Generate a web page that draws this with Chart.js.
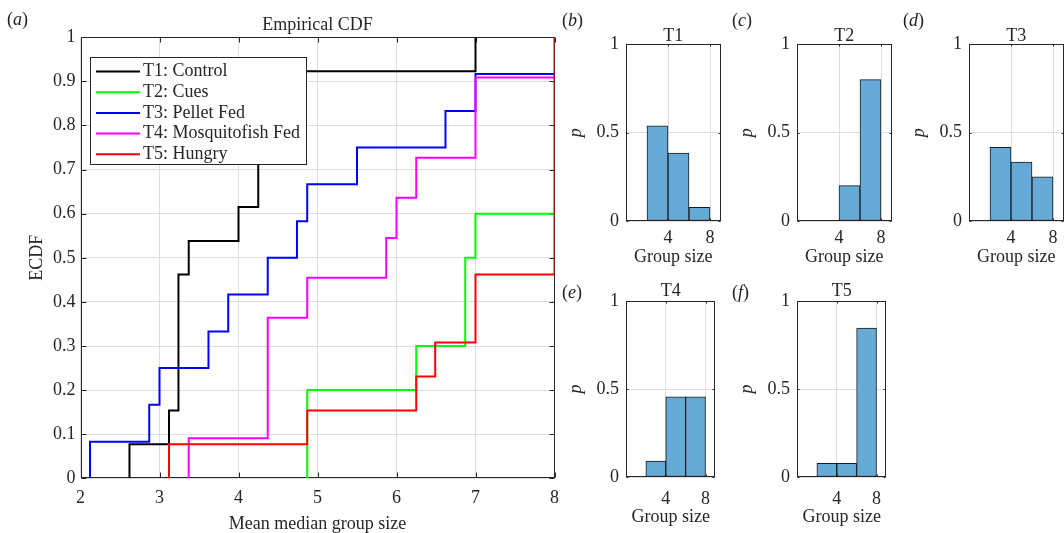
<!DOCTYPE html>
<html>
<head>
<meta charset="utf-8">
<script src="https://cdn.jsdelivr.net/npm/chart.js@4.4.1/dist/chart.umd.min.js"></script>
<style>
  body { margin: 0; background: #fff; overflow: hidden; }
  #page { position: relative; width: 1064px; height: 533px; overflow: hidden;
          font-family: 'Liberation Serif', 'Times New Roman', serif; color: #222; }
  canvas { position: absolute; }
  .lbl { position: absolute; font-size: 18px; line-height: 18px; white-space: nowrap; }
</style>
</head>
<body>
<div id="page">
  <canvas id="ecdf" width="568" height="533" style="left:0;top:0"></canvas>
  <canvas id="h1" width="159" height="270" style="left:562px;top:0"></canvas>
  <canvas id="h2" width="159" height="270" style="left:733px;top:0"></canvas>
  <canvas id="h3" width="159" height="270" style="left:905px;top:0"></canvas>
  <canvas id="h4" width="159" height="268" style="left:562px;top:265px"></canvas>
  <canvas id="h5" width="159" height="268" style="left:733px;top:265px"></canvas>

  <span class="lbl" style="left:7px;top:10px">(<i>a</i>)</span>
  <span class="lbl" style="left:562px;top:11px">(<i>b</i>)</span>
  <span class="lbl" style="left:732px;top:11px">(<i>c</i>)</span>
  <span class="lbl" style="left:903px;top:11px">(<i>d</i>)</span>
  <span class="lbl" style="left:562px;top:283px">(<i>e</i>)</span>
  <span class="lbl" style="left:732px;top:283px">(<i>f</i>)</span>
</div>

<script>
// --- Data ---

// ECDF steps: x where each jump happens and the level reached after it
const t1X = [2.62, 3.12, 3.24, 3.37, 4.0, 4.25, 7.0];
const t1Y = [0.077, 0.154, 0.462, 0.538, 0.615, 0.923, 1.0];
const t2X = [4.87, 6.25, 6.87, 7.0];
const t2Y = [0.2, 0.3, 0.5, 0.6];
const t3X = [2.12, 2.87, 3.0, 3.62, 3.87, 4.37, 4.74, 4.87, 5.5, 6.62, 7.0];
const t3Y = [0.083, 0.167, 0.25, 0.333, 0.417, 0.5, 0.583, 0.667, 0.75, 0.833, 0.917];
const t4X = [3.37, 4.37, 4.87, 5.87, 6.0, 6.25, 7.0];
const t4Y = [0.091, 0.364, 0.455, 0.545, 0.636, 0.727, 0.909];
const t5X = [3.12, 4.87, 6.25, 6.49, 7.0, 8.0];
const t5Y = [0.077, 0.154, 0.231, 0.308, 0.462, 1.0];

const seriesNames = ['T1: Control', 'T2: Cues', 'T3: Pellet Fed', 'T4: Mosquitofish Fed', 'T5: Hungry'];
const seriesColors = ['#000000', '#00ff00', '#0000ff', '#ff00ff', '#ff0000'];
const ecdfXTicks = [2, 3, 4, 5, 6, 7, 8];
const ecdfYTicks = [0, 0.1, 0.2, 0.3, 0.4, 0.5, 0.6, 0.7, 0.8, 0.9, 1];

// Histograms (bins 2-4, 4-6, 6-8)
const binCenters = [3, 5, 7];
const histTitles = ['T1', 'T2', 'T3', 'T4', 'T5'];
const t1Hist = [0.538, 0.385, 0.077];
const t2Hist = [0, 0.2, 0.8];
const t3Hist = [0.417, 0.333, 0.25];
const t4Hist = [0.091, 0.455, 0.455];
const t5Hist = [0.077, 0.077, 0.846];
const histXTicks = [4, 8];
const histYTicks = [0, 0.5, 1];

// --- Styling ---
const SERIF = "'Liberation Serif', 'Times New Roman', serif";
const INK = '#262626';
const GRID = '#dedede';
const BAR_FILL = '#66aad7';

// --- Plugins ---

// box around the axes plus inward tick marks on all four sides
const framePlugin = {
    id: 'frame',
    beforeDatasetsDraw(chart, args, opts) { if (!opts.onTop) drawFrame(chart, opts); },
    afterDatasetsDraw(chart, args, opts) { if (opts.onTop) drawFrame(chart, opts); }
};

function drawFrame(chart, opts) {
    const { ctx, chartArea: a, scales: { x, y } } = chart;
    const len = opts.tickLen;
    const l = Math.round(a.left) + 0.5, r = Math.round(a.right) - 0.5;
    const t = Math.round(a.top) + 0.5, b = Math.round(a.bottom) - 0.5;
    ctx.save();
    ctx.strokeStyle = INK;
    ctx.lineWidth = 1;
    ctx.beginPath();
    x.ticks.forEach(tk => {
        const px = Math.round(x.getPixelForValue(tk.value)) + 0.5;
        ctx.moveTo(px, b); ctx.lineTo(px, b - len);
        ctx.moveTo(px, t); ctx.lineTo(px, t + len);
    });
    y.ticks.forEach(tk => {
        const py = Math.round(y.getPixelForValue(tk.value)) + 0.5;
        ctx.moveTo(l, py); ctx.lineTo(l + len, py);
        ctx.moveTo(r, py); ctx.lineTo(r - len, py);
    });
    ctx.stroke();
    ctx.strokeRect(l, t, r - l, b - t);
    ctx.restore();
}

// title just above the axes box
const titlePlugin = {
    id: 'topTitle',
    afterDraw(chart, args, opts) {
        const { ctx, chartArea: a } = chart;
        ctx.save();
        ctx.font = '18px ' + SERIF;
        ctx.fillStyle = INK;
        ctx.textAlign = 'center';
        ctx.textBaseline = 'middle';
        ctx.fillText(opts.text, (a.left + a.right) / 2, a.top - opts.gap);
        ctx.restore();
    }
};

// MATLAB-like boxed legend in the upper left of the ECDF axes
const legendPlugin = {
    id: 'boxLegend',
    afterDatasetsDraw(chart, args, o) {
        const { ctx } = chart;
        ctx.save();
        ctx.fillStyle = '#fff';
        ctx.fillRect(o.left, o.top, o.width, o.height);
        ctx.strokeStyle = INK;
        ctx.lineWidth = 1;
        ctx.strokeRect(o.left + 0.5, o.top + 0.5, o.width, o.height);
        ctx.font = '18px ' + SERIF;
        ctx.textAlign = 'left';
        ctx.textBaseline = 'middle';
        chart.data.datasets.forEach((ds, i) => {
            const yy = o.firstRow + i * o.rowGap;
            ctx.strokeStyle = ds.borderColor;
            ctx.lineWidth = 2;
            ctx.beginPath();
            ctx.moveTo(o.lineX0, yy);
            ctx.lineTo(o.lineX1, yy);
            ctx.stroke();
            ctx.fillStyle = INK;
            ctx.fillText(ds.label, o.textX, yy);
        });
        ctx.restore();
    }
};

// --- Helpers ---

function stairs(xs, ys) {
    const xEnd = ecdfXTicks[ecdfXTicks.length - 1];
    const pts = [{ x: xs[0], y: 0 }];
    xs.forEach((x, i) => pts.push({ x: x, y: ys[i] }));
    const last = pts[pts.length - 1];
    if (last.y < 1 && last.x < xEnd) pts.push({ x: xEnd, y: last.y });
    return pts;
}

function fixedTicks(values) {
    return scale => { scale.ticks = values.map(v => ({ value: v })); };
}

const tickFont = { family: SERIF, size: 18 };

// --- ECDF chart ---
const ecdfSeries = [[t1X, t1Y], [t2X, t2Y], [t3X, t3Y], [t4X, t4Y], [t5X, t5Y]];

new Chart(document.getElementById('ecdf'), {
    type: 'line',
    data: {
        datasets: ecdfSeries.map((s, i) => ({
            label: seriesNames[i],
            data: stairs(s[0], s[1]),
            borderColor: seriesColors[i],
            borderWidth: 2,
            stepped: 'before',
            pointRadius: 0,
            fill: false,
            order: ecdfSeries.length - i
        }))
    },
    options: {
        responsive: false,
        animation: false,
        devicePixelRatio: 1,
        layout: { padding: { top: 37.3, right: 7, bottom: 0, left: 0 } },
        plugins: {
            legend: { display: false },
            tooltip: { enabled: false },
            frame: { tickLen: 5, onTop: false },
            topTitle: { text: 'Empirical CDF', gap: 12.3 },
            boxLegend: { left: 90, top: 57, width: 216, height: 107,
                         firstRow: 71.5, rowGap: 20.7, lineX0: 96, lineX1: 140, textX: 143 }
        },
        scales: {
            x: {
                type: 'linear', min: 2, max: 8,
                afterBuildTicks: fixedTicks(ecdfXTicks),
                afterFit: s => { s.height = 54.7; },
                grid: { color: GRID, drawTicks: false },
                border: { display: false },
                ticks: { font: tickFont, color: INK, padding: 9, maxRotation: 0, autoSkip: false,
                         callback: v => String(v) },
                title: { display: true, text: 'Mean median group size', color: INK,
                         font: { family: SERIF, size: 18, lineHeight: 1 },
                         padding: { top: 0, bottom: 0 } }
            },
            y: {
                type: 'linear', min: 0, max: 1,
                afterBuildTicks: fixedTicks(ecdfYTicks),
                afterFit: s => { s.width = 80.5; },
                grid: { color: GRID, drawTicks: false },
                border: { display: false },
                ticks: { font: tickFont, color: INK, padding: 5, autoSkip: false,
                         callback: v => String(v) },
                title: { display: true, text: 'ECDF', font: tickFont, color: INK,
                         padding: { top: 26.5, bottom: 0 } }
            }
        }
    },
    plugins: [framePlugin, titlePlugin, legendPlugin]
});

// --- Histogram panels ---
const rowTop = { padTop: 44.3, xHeight: 49, tickPad: 6.5, labelPad: 1.5, titleGap: 7.6 };
const rowBottom = { padTop: 36, xHeight: 56, tickPad: 11, labelPad: 4.5, titleGap: 9.3 };

function makeHist(id, title, values, row) {
    new Chart(document.getElementById(id), {
        type: 'bar',
        data: {
            datasets: [{
                data: binCenters.map((c, i) => ({ x: c, y: values[i] })),
                backgroundColor: BAR_FILL,
                borderColor: '#1a1a1a',
                borderWidth: 1,
                borderSkipped: false,
                barPercentage: 1,
                categoryPercentage: 1
            }]
        },
        options: {
            responsive: false,
            animation: false,
            devicePixelRatio: 1,
            layout: { padding: { top: row.padTop, right: 0, bottom: 0, left: 0 } },
            plugins: {
                legend: { display: false },
                tooltip: { enabled: false },
                frame: { tickLen: 2, onTop: true },
                topTitle: { text: title, gap: row.titleGap }
            },
            scales: {
                x: {
                    type: 'linear', min: 0, max: 9, offset: false,
                    afterBuildTicks: fixedTicks(histXTicks),
                    afterFit: s => { s.height = row.xHeight; },
                    grid: { color: GRID, drawTicks: false, offset: false },
                    border: { display: false },
                    ticks: { font: tickFont, color: INK, padding: row.tickPad, maxRotation: 0,
                             autoSkip: false, callback: v => String(v) },
                    title: { display: true, text: 'Group size', font: tickFont, color: INK,
                             padding: { top: 0, bottom: row.labelPad } }
                },
                y: {
                    type: 'linear', min: 0, max: 1,
                    afterBuildTicks: fixedTicks(histYTicks),
                    afterFit: s => { s.width = 64; },
                    grid: { color: GRID, drawTicks: false },
                    border: { display: false },
                    ticks: { font: tickFont, color: INK, padding: 7, autoSkip: false,
                             callback: v => String(v) },
                    title: { display: true, text: 'p', color: INK,
                             font: { family: SERIF, size: 18, style: 'italic', lineHeight: 1 },
                             padding: { top: 5.5, bottom: 0 } }
                }
            }
        },
        plugins: [framePlugin, titlePlugin]
    });
}

makeHist('h1', histTitles[0], t1Hist, rowTop);
makeHist('h2', histTitles[1], t2Hist, rowTop);
makeHist('h3', histTitles[2], t3Hist, rowTop);
makeHist('h4', histTitles[3], t4Hist, rowBottom);
makeHist('h5', histTitles[4], t5Hist, rowBottom);
</script>
</body>
</html>
